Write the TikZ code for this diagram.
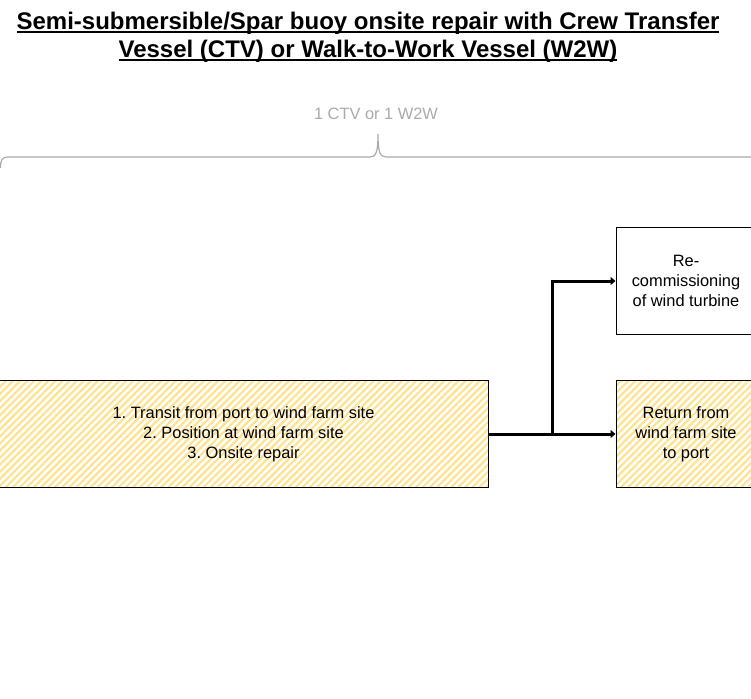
\documentclass[tikz,border=0pt]{standalone}
\usepackage{fontspec}
\setmainfont{Liberation Sans}
\usetikzlibrary{arrows.meta, patterns.meta, calc}
\frenchspacing

\definecolor{hatchyellow}{RGB}{255,226,140}
\definecolor{bracegray}{RGB}{170,170,170}

% underline close to the baseline, as in the title
\newcommand{\titleline}[1]{\setbox0\hbox{#1}\rlap{\rule[-3.7pt]{\wd0}{1.7pt}}\box0}

\begin{document}
\begin{tikzpicture}[
    x=1pt, y=-1pt,
    font=\fontsize{16.4}{20}\selectfont, % box text
    every node/.style={align=center},
    box/.style={draw, line width=1pt, minimum height=107pt, inner sep=0pt},
    hatched/.style={box, pattern={Lines[angle=45, distance=5pt, line width=2.2pt]}, pattern color=hatchyellow},
    plain/.style={box, fill=white},
    flow/.style={-{Triangle[length=5pt, width=8pt]}, line width=3pt},
    bracket/.style={bracegray, line width=1.2pt}
]
\useasboundingbox (0,0) rectangle (751,698);
\clip (0,0) rectangle (751,698);

% =========================================================
% Title and vessel bracket
% =========================================================
\node[font=\fontsize{24}{28}\selectfont\bfseries] (title) at (368, 37)
    {\titleline{Semi-submersible/Spar buoy onsite repair with Crew Transfer}\\
     \titleline{Vessel (CTV) or Walk-to-Work Vessel (W2W)}};

\node[text=bracegray] (vessel) at (376, 114) {1 CTV or 1 W2W};

\draw[bracket] (0.5,168) .. controls (0.5,160) and (2,157) .. (8,157) -- (370,157)
    .. controls (376,157) and (378,152) .. (378,134)
    .. controls (378,152) and (380,157) .. (386,157) -- (800,157);

% =========================================================
% Work steps
% =========================================================
\node[hatched, minimum width=489pt] (onsite) at (243.5, 434)
    {1. Transit from port to wind farm site\\2. Position at wind farm site\\3. Onsite repair};
\node[plain, minimum width=140pt] (recom) at (686, 281)
    {Re-\\commissioning\\of wind turbine};
\node[hatched, minimum width=140pt] (return) at (686, 434)
    {Return from\\wind farm site\\to port};

% Split after the repair
\coordinate (split) at ($(onsite.east)!0.5!(return.west)$);
\draw[flow] (onsite.east) -- (return.west);
\draw[flow] (split) |- (recom.west);

\end{tikzpicture}
\end{document}
